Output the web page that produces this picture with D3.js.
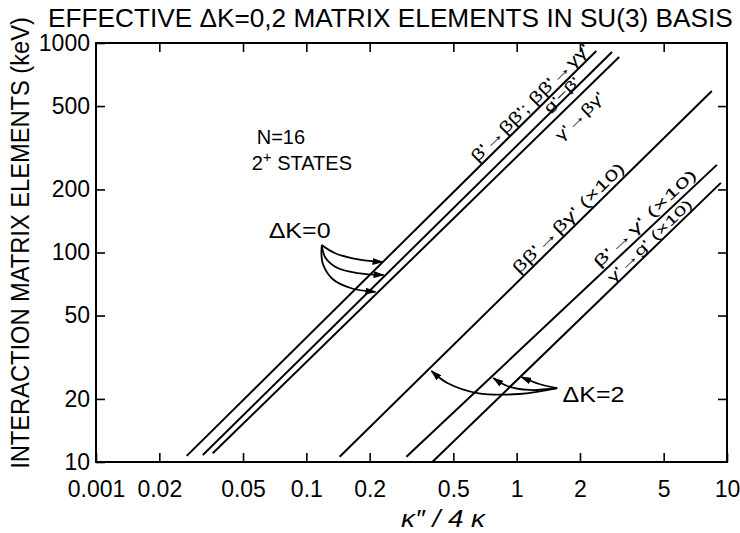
<!DOCTYPE html>
<html>
<head>
<meta charset="utf-8">
<script src="https://cdn.jsdelivr.net/npm/d3@7"></script>
<style>
  body { margin: 0; background: #fff; }
  svg text { font-family: "Liberation Sans", Arial, sans-serif; fill: #000; }
</style>
</head>
<body>
<svg id="chart" width="740" height="533"></svg>
<script>
// ---- axis ticks ----
const xTicks = [0.01, 0.02, 0.05, 0.1, 0.2, 0.5, 1, 2, 5, 10];
const xTickLabels = ["0.001", "0.02", "0.05", "0.1", "0.2", "0.5", "1", "2", "5", "10"];
const yTicks = [10, 20, 50, 100, 200, 500, 1000];
const yTickLabels = ["10", "20", "50", "100", "200", "500", "1000"];

// ---- curves: straight lines on log-log axes, given by their end points [κ''/4κ, keV] ----
const seriesNames = ["β'→ββ'; ββ'→γγ'", "g'−β'", "γ'→βγ'", "ββ'→βγ' (×10)", "β'→γ' (×10)", "γ'→g' (×10)"];
const seriesStart = [[0.0270, 10.7], [0.0322, 10.8], [0.0359, 11.0], [0.144, 10.6], [0.299, 10.6], [0.397, 10.0]];
const seriesEnd   = [[2.39, 916], [2.84, 906], [3.07, 857], [8.47, 590], [8.95, 262], [9.35, 215]];

// ---- annotation arrows (points in data space) ----
const dk0Arrows = [
  [[0.1182, 108.6], [0.1362, 99.5], [0.1641, 94.1], [0.1997, 91.1], [0.2302, 90.1]],
  [[0.1182, 108.6], [0.1235, 94.1], [0.1408, 84.3], [0.1752, 79.8], [0.2328, 78.1]],
  [[0.1182, 106.2], [0.1195, 89.1], [0.1333, 74.7], [0.1623, 67.7], [0.2133, 64.8]]
];
const dk2Arrows = [
  [[1.558, 22.55], [1.029, 21.11], [0.6501, 21.34], [0.4683, 23.83], [0.3933, 27.19]],
  [[1.558, 22.55], [1.148, 22.07], [0.9024, 23.06], [0.7743, 25.18]],
  [[1.558, 22.55], [1.281, 23.57], [1.051, 25.46]]
];

// label placement along each curve: where (κ''/4κ), offset from the line (px, + = above),
// font size and the length the label is stretched to
const labelPlacement = [
  { at: 1.25, off: 10, size: 16, len: 160 },
  { at: 1.70, off: 5, size: 13, len: 44 },
  { at: 1.78, off: -15, size: 15, len: 62 },
  { at: 1.90, off: 10, size: 16, len: 150 },
  { at: 4.40, off: 10, size: 15, len: 135 },
  { at: 4.55, off: 8, size: 14, len: 112 }
];

const svg = d3.select("#chart");
const margin = { left: 96, right: 13, top: 43, bottom: 71 };
const W = 740, H = 533;

const x = d3.scaleLog().domain([0.01, 10]).range([margin.left, W - margin.right]);
const y = d3.scaleLog().domain([10, 1000]).range([H - margin.bottom, margin.top]);

// arrowhead marker
svg.append("defs").append("marker")
  .attr("id", "head")
  .attr("markerUnits", "userSpaceOnUse")
  .attr("markerWidth", 11).attr("markerHeight", 7)
  .attr("refX", 10).attr("refY", 3.5)
  .attr("orient", "auto")
  .append("path").attr("d", "M0,0 L11,3.5 L0,7 Z").attr("fill", "#000");

// ---- axes ----
const xBottom = d3.axisBottom(x).tickValues(xTicks)
  .tickFormat((d, i) => xTickLabels[i]).tickSizeInner(-9).tickSizeOuter(0).tickPadding(19);
const xTop = d3.axisTop(x).tickValues(xTicks.slice(1, -1))
  .tickFormat("").tickSizeInner(-9).tickSizeOuter(0);
const yLeft = d3.axisLeft(y).tickValues(yTicks)
  .tickFormat((d, i) => yTickLabels[i]).tickSizeInner(-9).tickSizeOuter(0).tickPadding(6);
const yRight = d3.axisRight(y).tickValues(yTicks.slice(1, -1))
  .tickFormat("").tickSizeInner(-9).tickSizeOuter(0);

const gB = svg.append("g").attr("transform", `translate(0,${y(10)})`).call(xBottom);
const gT = svg.append("g").attr("transform", `translate(0,${y(1000)})`).call(xTop);
const gL = svg.append("g").attr("transform", `translate(${x(0.01)},0)`).call(yLeft);
const gR = svg.append("g").attr("transform", `translate(${x(10)},0)`).call(yRight);

[gB, gT, gL, gR].forEach(g => {
  g.select(".domain").remove();
  g.selectAll(".tick line").attr("stroke", "#000").attr("stroke-width", 1.6);
  g.selectAll(".tick text").style("font-size", "23px").attr("fill", "#000");
});

// frame
svg.append("rect")
  .attr("x", x(0.01)).attr("y", y(1000))
  .attr("width", x(10) - x(0.01)).attr("height", y(10) - y(1000))
  .attr("fill", "none").attr("stroke", "#000").attr("stroke-width", 2);

// ---- data lines ----
const line = d3.line().x(d => x(d[0])).y(d => y(d[1]));
seriesNames.forEach((name, i) => {
  svg.append("path")
    .datum([seriesStart[i], seriesEnd[i]])
    .attr("d", line)
    .attr("fill", "none").attr("stroke", "#000").attr("stroke-width", 2);
});

// value on a curve at a given κ''/4κ (log-linear between its end points)
function valueAt(i, xv) {
  const [x0, v0] = seriesStart[i], [x1, v1] = seriesEnd[i];
  const t = (Math.log(xv) - Math.log(x0)) / (Math.log(x1) - Math.log(x0));
  return Math.exp(Math.log(v0) + t * (Math.log(v1) - Math.log(v0)));
}

// horizontal scale factor that brings a text to a given width
function fitText(sel, width) {
  const w = sel.node().getComputedTextLength();
  return width / w;
}

// ---- curve labels, set along the lines ----
seriesNames.forEach((name, i) => {
  const p = labelPlacement[i];
  const dx = x(seriesEnd[i][0]) - x(seriesStart[i][0]);
  const dy = y(seriesEnd[i][1]) - y(seriesStart[i][1]);
  const len = Math.hypot(dx, dy);
  const ux = dx / len, uy = dy / len;
  const ang = Math.atan2(dy, dx) * 180 / Math.PI;
  const px = x(p.at) + uy * p.off;
  const py = y(valueAt(i, p.at)) - ux * p.off;
  const t = svg.append("text")
    .attr("text-anchor", "middle")
    .attr("dominant-baseline", "central")
    .style("font-size", p.size + "px")
    .text(name);
  const s = fitText(t, p.len);
  t.attr("transform", `translate(${px},${py}) rotate(${ang}) scale(${s},1)`);
});

// ---- ΔK annotations ----
const curve = d3.line().x(d => x(d[0])).y(d => y(d[1])).curve(d3.curveCatmullRom);
[...dk0Arrows, ...dk2Arrows].forEach(pts => {
  svg.append("path").datum(pts).attr("d", curve)
    .attr("fill", "none").attr("stroke", "#000").attr("stroke-width", 1.8)
    .attr("marker-end", "url(#head)");
});

const dk0 = svg.append("text").attr("text-anchor", "middle").style("font-size", "22px").text("ΔK=0");
dk0.attr("transform", `translate(${x(0.0929)},${y(117)}) scale(${fitText(dk0, 62)},1)`);
const dk2 = svg.append("text").attr("text-anchor", "middle").style("font-size", "22px").text("ΔK=2");
dk2.attr("transform", `translate(${x(2.32)},${y(19.3)}) scale(${fitText(dk2, 62)},1)`);

svg.append("text").attr("x", x(0.0581)).attr("y", y(329.6))
  .style("font-size", "20px").text("N=16");
const st = svg.append("text").attr("x", x(0.055)).attr("y", y(247.6)).style("font-size", "20px");
st.append("tspan").text("2");
st.append("tspan").attr("dy", -8).style("font-size", "15px").text("+");
st.append("tspan").attr("dy", 8).text(" STATES");

// ---- titles ----
const title = svg.append("text").style("font-size", "25px")
  .text("EFFECTIVE ΔK=0,2 MATRIX ELEMENTS IN SU(3) BASIS");
title.attr("transform", `translate(48,27) scale(${fitText(title, 685)},1)`);

const yTitle = svg.append("text").attr("text-anchor", "middle").style("font-size", "25px")
  .text("INTERACTION MATRIX ELEMENTS (keV)");
yTitle.attr("transform", `translate(29,${(16 + 470) / 2}) rotate(-90) scale(${fitText(yTitle, 452)},1)`);

const xTitle = svg.append("text").attr("text-anchor", "middle")
  .style("font-size", "24px").style("font-style", "italic")
  .text("κ″ / 4 κ");
xTitle.attr("transform", `translate(443,527) scale(${fitText(xTitle, 84)},1)`);
</script>
</body>
</html>
